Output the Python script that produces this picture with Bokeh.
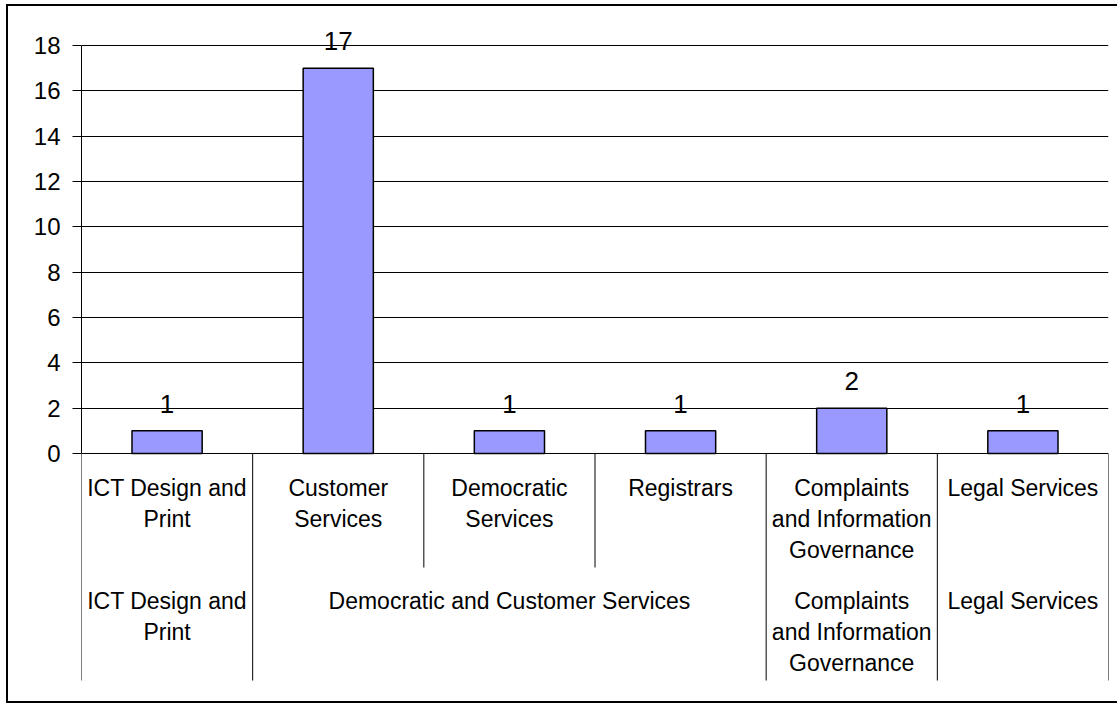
from bokeh.plotting import figure
from bokeh.models import FactorRange, Range1d, FixedTicker
from bokeh.core.properties import value
from bokeh.embed import file_html
from bokeh.resources import INLINE

# ---- data ----
groups = ["ICT Design and Print", "Democratic and Customer Services",
          "Democratic and Customer Services", "Democratic and Customer Services",
          "Complaints and Information Governance", "Legal Services"]
categories = ["ICT Design and Print", "Customer Services", "Democratic Services",
              "Registrars", "Complaints and Information Governance", "Legal Services"]
values = [1, 17, 1, 1, 2, 1]
category_labels = ["ICT Design and\nPrint", "Customer\nServices", "Democratic\nServices",
                   "Registrars", "Complaints\nand Information\nGovernance", "Legal Services"]
group_names = ["ICT Design and Print", "Democratic and Customer Services",
               "Complaints and Information Governance", "Legal Services"]
group_labels = ["ICT Design and\nPrint", "Democratic and Customer Services",
                "Complaints\nand Information\nGovernance", "Legal Services"]
y_ticks = [0, 2, 4, 6, 8, 10, 12, 14, 16, 18]

FONT = value("Liberation Sans")

# ---- geometry (pixels) ----
PPU = (453 - 45) / 18.0          # pixels per value unit
ZERO_PX = 453                     # page y of value 0
FRAME_TOP, FRAME_BOTTOM = 12, 692
def px_to_y(py):
    return (ZERO_PX - py) / PPU

factors = list(zip(groups, categories))
xr = FactorRange(*factors, range_padding=0, group_padding=0, factor_padding=0)
yr = Range1d(px_to_y(FRAME_BOTTOM), px_to_y(FRAME_TOP))

p = figure(x_range=xr, y_range=yr, frame_width=1027, frame_height=FRAME_BOTTOM - FRAME_TOP,
           min_border_left=73, min_border_right=9, min_border_top=6, min_border_bottom=9,
           x_axis_location=None, toolbar_location=None, output_backend="svg")
p.styles = {"border-left": "2px solid black", "border-top": "2px solid black",
            "border-bottom": "2px solid black", "margin-left": "6px", "margin-top": "4px"}
p.outline_line_color = None
p.background_fill_color = "white"
p.border_fill_color = "white"

# y axis
ax = p.yaxis[0]
ax.ticker = FixedTicker(ticks=y_ticks)
ax.bounds = (min(y_ticks), max(y_ticks))
ax.major_tick_out = 9
ax.major_tick_in = 0
ax.minor_tick_out = 0
ax.minor_tick_in = 0
ax.major_label_standoff = 12
ax.major_label_text_font = "Liberation Sans"
ax.major_label_text_font_size = "24px"
ax.major_label_text_color = "black"
ax.axis_line_color = "black"
ax.major_tick_line_color = "black"

p.xgrid.visible = False
p.ygrid.ticker = FixedTicker(ticks=y_ticks)
p.ygrid.grid_line_color = "black"
p.ygrid.grid_line_width = 1

# bars
p.vbar(x=factors, top=values, bottom=0, width=0.41, fill_color="#9999FF",
       line_color="black", line_width=1.5)

# value labels
p.text(x=factors, y=[v + 27 / PPU for v in values], text=[str(v) for v in values],
       text_align="center", text_baseline="alphabetic", text_font=FONT,
       text_font_size="26px", text_color="black")

# category separators
n = len(categories)
long_b, short_b = [], []
for i in range(n + 1):
    if i == 0 or i == n or groups[i - 1] != groups[i]:
        long_b.append(i)
    else:
        short_b.append(i)
p.segment(x0=long_b, x1=long_b, y0=[0] * len(long_b), y1=[px_to_y(680)] * len(long_b),
          line_color="black", line_width=1)
p.segment(x0=short_b, x1=short_b, y0=[0] * len(short_b), y1=[px_to_y(567)] * len(short_b),
          line_color="black", line_width=1)

# level-1 labels
p.text(x=factors, y=[px_to_y(474)] * n, text=category_labels, text_align="center",
       text_baseline="top", text_font=FONT, text_font_size="23px",
       text_line_height=1.2, text_color="black")
# level-2 labels
p.text(x=group_names, y=[px_to_y(587)] * len(group_names), text=group_labels,
       text_align="center", text_baseline="top", text_font=FONT, text_font_size="23px",
       text_line_height=1.2, text_color="black")

open("out.html", "w").write(file_html(p, INLINE))
